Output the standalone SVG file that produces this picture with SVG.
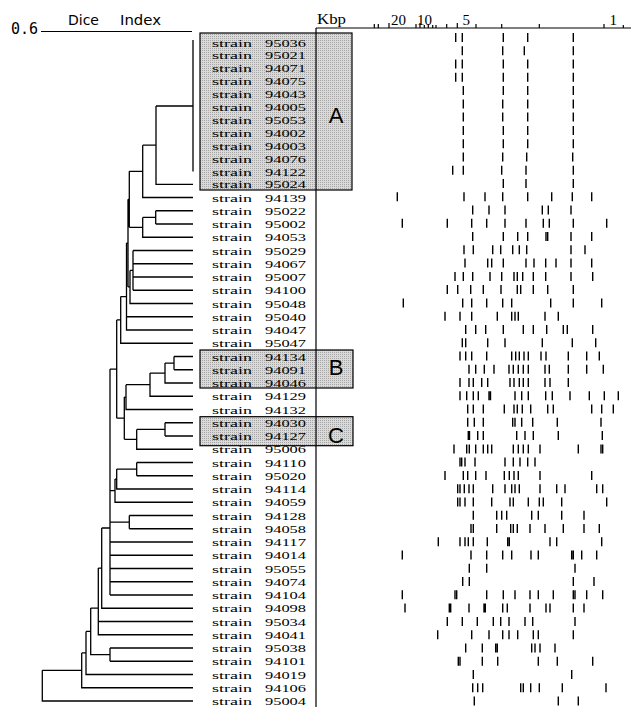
<svg xmlns="http://www.w3.org/2000/svg" width="631" height="707" viewBox="0 0 631 707">
<defs>
<pattern id="stip" width="2" height="2" patternUnits="userSpaceOnUse"><rect width="2" height="2" fill="#dadada"/><rect width="1" height="1" fill="#a6a6a6"/></pattern>
</defs>
<style>
.ln{fill:none;stroke:#000;stroke-width:1.3}
.ax{fill:none;stroke:#000;stroke-width:1.2}
.b{fill:none;stroke:#000;stroke-width:1.4}
.box{fill:url(#stip);stroke:#000;stroke-width:1.2}
.s{font-family:"Liberation Serif",serif;font-size:11.4px;fill:#000}
.lab{font-family:"Liberation Sans",sans-serif;font-size:22px;fill:#000}
.hd{font-family:"DejaVu Sans",sans-serif;font-size:14px;fill:#000}
.mono{font-family:"DejaVu Sans Mono",monospace;font-size:15px;fill:#000}
.k{font-family:"Liberation Serif",serif;font-size:15px;fill:#000}
</style>
<rect width="631" height="707" fill="#fff"/>
<g id="boxes">
<rect class="box" x="200" y="33" width="152" height="157"/>
<rect class="box" x="200" y="350" width="153" height="38"/>
<rect class="box" x="200" y="416.7" width="153" height="29"/>
<text class="lab" x="336" y="123" text-anchor="middle">A</text>
<text class="lab" x="336" y="375" text-anchor="middle">B</text>
<text class="lab" x="336" y="443" text-anchor="middle">C</text>
</g>
<g id="axes">
<text class="mono" x="11" y="33.5">0.6</text>
<text class="hd" x="68" y="25">Dice</text>
<text class="hd" x="120" y="25" textLength="41" lengthAdjust="spacingAndGlyphs">Index</text>
<path class="ax" d="M41,31.5H192"/>
<path class="ax" d="M316,28H631M316,28V707"/>
<text class="k" x="317" y="23.5" textLength="29" lengthAdjust="spacingAndGlyphs">Kbp</text>
<text class="k" x="391" y="25">20</text>
<text class="k" x="417" y="25">10</text>
<text class="k" x="462.5" y="25">5</text>
<text class="k" x="609.5" y="25">1</text>
<path class="ax" d="M374.3,24V28M378.3,24V28M389,23V28M416,24V28M420,23V28M424.3,25V28M428.3,24V28M432.7,25V28M436,25V28M446.7,24V28M457.3,23V28M476,24V28M501.7,24V28M539.3,24V28M604,24V28M623.3,25V28"/>
</g>
<g id="connectors">
<path class="ln" d="M193,40V171.5M156,106H193M156,106V184.4H193M142.7,145.2H156M142.7,145.2V197.5H193M129.3,171.35H142.7
M155.7,210.75H193M155.7,224H193M155.7,210.75V224M142.7,217.4H155.7M142.7,217.4V237.25H193M129.3,227.3H142.7M129.3,171.35V227.3
M128,199.3H129.3M128,199.3V286.9M133,250.5V290.25M133,250.5H193M133,263.75H193M133,277H193M133,290.25H193M130,270.4H133M130,270.4V303.5H193M128,286.9H130
M126.5,243.1H128M126.5,243.1V330H193M126.5,316.75H193M120.7,296.6H126.5M120.7,296.6V343.25H193M116.7,319.9H120.7M116.7,319.9V418.2
M174,356.5V369.75M174,356.5H193M174,369.75H193M165,363.1H174M165,363.1V383H193M150,373.1H165M150,373.1V396.25H193M126,384.7H150M126,384.7V409.5H193M124.3,397.1H126M124.3,397.1V439.3
M165,422.75V436M165,422.75H193M165,436H193M136.7,429.4H165M136.7,429.4V449.25H193M124.3,439.3H136.7M116.7,418.2H124.3
M110,369.05H116.7M110,369.05V595
M136.7,462.5V475.75M136.7,462.5H193M136.7,475.75H193M116.7,469.1H136.7M116.7,469.1V489H193M115,479.05H116.7M115,479.05V502.25H193M110,490.65H115
M129.3,515.5V528.75M129.3,515.5H193M129.3,528.75H193M110,522.1H129.3
M110,542H193M110,555.25H193M110,568.5H193M110,581.75H193M110,595H193
M101.7,528H110M101.7,528V608.25H193M98.3,568.1H101.7M98.3,568.1V634.75H193M98.3,621.5H193
M110,648V661.25M110,648H193M110,661.25H193M90.7,608.1H98.3M90.7,608.1V654.6H110
M86,631.4H90.7M86,631.4V674.5H193M81.7,652.9H86M81.7,652.9V687.75H193M42.3,670.3H81.7M42.3,670.3V701H193"/>
</g>
<g id="labels">
<g id="s95036"><text class="s" y="46.5"><tspan x="212" textLength="40" lengthAdjust="spacingAndGlyphs">strain</tspan><tspan x="265" textLength="41" lengthAdjust="spacingAndGlyphs">95036</tspan></text></g>
<g id="s95021"><text class="s" y="59.4"><tspan x="212" textLength="40" lengthAdjust="spacingAndGlyphs">strain</tspan><tspan x="265" textLength="41" lengthAdjust="spacingAndGlyphs">95021</tspan></text></g>
<g id="s94071"><text class="s" y="72.3"><tspan x="212" textLength="40" lengthAdjust="spacingAndGlyphs">strain</tspan><tspan x="265" textLength="41" lengthAdjust="spacingAndGlyphs">94071</tspan></text></g>
<g id="s94075"><text class="s" y="85.2"><tspan x="212" textLength="40" lengthAdjust="spacingAndGlyphs">strain</tspan><tspan x="265" textLength="41" lengthAdjust="spacingAndGlyphs">94075</tspan></text></g>
<g id="s94043"><text class="s" y="98.1"><tspan x="212" textLength="40" lengthAdjust="spacingAndGlyphs">strain</tspan><tspan x="265" textLength="41" lengthAdjust="spacingAndGlyphs">94043</tspan></text></g>
<g id="s94005"><text class="s" y="111"><tspan x="212" textLength="40" lengthAdjust="spacingAndGlyphs">strain</tspan><tspan x="265" textLength="41" lengthAdjust="spacingAndGlyphs">94005</tspan></text></g>
<g id="s95053"><text class="s" y="123.9"><tspan x="212" textLength="40" lengthAdjust="spacingAndGlyphs">strain</tspan><tspan x="265" textLength="41" lengthAdjust="spacingAndGlyphs">95053</tspan></text></g>
<g id="s94002"><text class="s" y="136.8"><tspan x="212" textLength="40" lengthAdjust="spacingAndGlyphs">strain</tspan><tspan x="265" textLength="41" lengthAdjust="spacingAndGlyphs">94002</tspan></text></g>
<g id="s94003"><text class="s" y="149.7"><tspan x="212" textLength="40" lengthAdjust="spacingAndGlyphs">strain</tspan><tspan x="265" textLength="41" lengthAdjust="spacingAndGlyphs">94003</tspan></text></g>
<g id="s94076"><text class="s" y="162.6"><tspan x="212" textLength="40" lengthAdjust="spacingAndGlyphs">strain</tspan><tspan x="265" textLength="41" lengthAdjust="spacingAndGlyphs">94076</tspan></text></g>
<g id="s94122"><text class="s" y="175.5"><tspan x="212" textLength="40" lengthAdjust="spacingAndGlyphs">strain</tspan><tspan x="265" textLength="41" lengthAdjust="spacingAndGlyphs">94122</tspan></text></g>
<g id="s95024"><text class="s" y="188.4"><tspan x="212" textLength="40" lengthAdjust="spacingAndGlyphs">strain</tspan><tspan x="265" textLength="41" lengthAdjust="spacingAndGlyphs">95024</tspan></text></g>
<g id="s94139"><text class="s" y="201.5"><tspan x="212" textLength="40" lengthAdjust="spacingAndGlyphs">strain</tspan><tspan x="265" textLength="41" lengthAdjust="spacingAndGlyphs">94139</tspan></text></g>
<g id="s95022"><text class="s" y="214.75"><tspan x="212" textLength="40" lengthAdjust="spacingAndGlyphs">strain</tspan><tspan x="265" textLength="41" lengthAdjust="spacingAndGlyphs">95022</tspan></text></g>
<g id="s95002"><text class="s" y="228"><tspan x="212" textLength="40" lengthAdjust="spacingAndGlyphs">strain</tspan><tspan x="265" textLength="41" lengthAdjust="spacingAndGlyphs">95002</tspan></text></g>
<g id="s94053"><text class="s" y="241.25"><tspan x="212" textLength="40" lengthAdjust="spacingAndGlyphs">strain</tspan><tspan x="265" textLength="41" lengthAdjust="spacingAndGlyphs">94053</tspan></text></g>
<g id="s95029"><text class="s" y="254.5"><tspan x="212" textLength="40" lengthAdjust="spacingAndGlyphs">strain</tspan><tspan x="265" textLength="41" lengthAdjust="spacingAndGlyphs">95029</tspan></text></g>
<g id="s94067"><text class="s" y="267.75"><tspan x="212" textLength="40" lengthAdjust="spacingAndGlyphs">strain</tspan><tspan x="265" textLength="41" lengthAdjust="spacingAndGlyphs">94067</tspan></text></g>
<g id="s95007"><text class="s" y="281"><tspan x="212" textLength="40" lengthAdjust="spacingAndGlyphs">strain</tspan><tspan x="265" textLength="41" lengthAdjust="spacingAndGlyphs">95007</tspan></text></g>
<g id="s94100"><text class="s" y="294.25"><tspan x="212" textLength="40" lengthAdjust="spacingAndGlyphs">strain</tspan><tspan x="265" textLength="41" lengthAdjust="spacingAndGlyphs">94100</tspan></text></g>
<g id="s95048"><text class="s" y="307.5"><tspan x="212" textLength="40" lengthAdjust="spacingAndGlyphs">strain</tspan><tspan x="265" textLength="41" lengthAdjust="spacingAndGlyphs">95048</tspan></text></g>
<g id="s95040"><text class="s" y="320.75"><tspan x="212" textLength="40" lengthAdjust="spacingAndGlyphs">strain</tspan><tspan x="265" textLength="41" lengthAdjust="spacingAndGlyphs">95040</tspan></text></g>
<g id="s94047"><text class="s" y="334"><tspan x="212" textLength="40" lengthAdjust="spacingAndGlyphs">strain</tspan><tspan x="265" textLength="41" lengthAdjust="spacingAndGlyphs">94047</tspan></text></g>
<g id="s95047"><text class="s" y="347.25"><tspan x="212" textLength="40" lengthAdjust="spacingAndGlyphs">strain</tspan><tspan x="265" textLength="41" lengthAdjust="spacingAndGlyphs">95047</tspan></text></g>
<g id="s94134"><text class="s" y="360.5"><tspan x="212" textLength="40" lengthAdjust="spacingAndGlyphs">strain</tspan><tspan x="265" textLength="41" lengthAdjust="spacingAndGlyphs">94134</tspan></text></g>
<g id="s94091"><text class="s" y="373.75"><tspan x="212" textLength="40" lengthAdjust="spacingAndGlyphs">strain</tspan><tspan x="265" textLength="41" lengthAdjust="spacingAndGlyphs">94091</tspan></text></g>
<g id="s94046"><text class="s" y="387"><tspan x="212" textLength="40" lengthAdjust="spacingAndGlyphs">strain</tspan><tspan x="265" textLength="41" lengthAdjust="spacingAndGlyphs">94046</tspan></text></g>
<g id="s94129"><text class="s" y="400.25"><tspan x="212" textLength="40" lengthAdjust="spacingAndGlyphs">strain</tspan><tspan x="265" textLength="41" lengthAdjust="spacingAndGlyphs">94129</tspan></text></g>
<g id="s94132"><text class="s" y="413.5"><tspan x="212" textLength="40" lengthAdjust="spacingAndGlyphs">strain</tspan><tspan x="265" textLength="41" lengthAdjust="spacingAndGlyphs">94132</tspan></text></g>
<g id="s94030"><text class="s" y="426.75"><tspan x="212" textLength="40" lengthAdjust="spacingAndGlyphs">strain</tspan><tspan x="265" textLength="41" lengthAdjust="spacingAndGlyphs">94030</tspan></text></g>
<g id="s94127"><text class="s" y="440"><tspan x="212" textLength="40" lengthAdjust="spacingAndGlyphs">strain</tspan><tspan x="265" textLength="41" lengthAdjust="spacingAndGlyphs">94127</tspan></text></g>
<g id="s95006"><text class="s" y="453.25"><tspan x="212" textLength="40" lengthAdjust="spacingAndGlyphs">strain</tspan><tspan x="265" textLength="41" lengthAdjust="spacingAndGlyphs">95006</tspan></text></g>
<g id="s94110"><text class="s" y="466.5"><tspan x="212" textLength="40" lengthAdjust="spacingAndGlyphs">strain</tspan><tspan x="265" textLength="41" lengthAdjust="spacingAndGlyphs">94110</tspan></text></g>
<g id="s95020"><text class="s" y="479.75"><tspan x="212" textLength="40" lengthAdjust="spacingAndGlyphs">strain</tspan><tspan x="265" textLength="41" lengthAdjust="spacingAndGlyphs">95020</tspan></text></g>
<g id="s94114"><text class="s" y="493"><tspan x="212" textLength="40" lengthAdjust="spacingAndGlyphs">strain</tspan><tspan x="265" textLength="41" lengthAdjust="spacingAndGlyphs">94114</tspan></text></g>
<g id="s94059"><text class="s" y="506.25"><tspan x="212" textLength="40" lengthAdjust="spacingAndGlyphs">strain</tspan><tspan x="265" textLength="41" lengthAdjust="spacingAndGlyphs">94059</tspan></text></g>
<g id="s94128"><text class="s" y="519.5"><tspan x="212" textLength="40" lengthAdjust="spacingAndGlyphs">strain</tspan><tspan x="265" textLength="41" lengthAdjust="spacingAndGlyphs">94128</tspan></text></g>
<g id="s94058"><text class="s" y="532.75"><tspan x="212" textLength="40" lengthAdjust="spacingAndGlyphs">strain</tspan><tspan x="265" textLength="41" lengthAdjust="spacingAndGlyphs">94058</tspan></text></g>
<g id="s94117"><text class="s" y="546"><tspan x="212" textLength="40" lengthAdjust="spacingAndGlyphs">strain</tspan><tspan x="265" textLength="41" lengthAdjust="spacingAndGlyphs">94117</tspan></text></g>
<g id="s94014"><text class="s" y="559.25"><tspan x="212" textLength="40" lengthAdjust="spacingAndGlyphs">strain</tspan><tspan x="265" textLength="41" lengthAdjust="spacingAndGlyphs">94014</tspan></text></g>
<g id="s95055"><text class="s" y="572.5"><tspan x="212" textLength="40" lengthAdjust="spacingAndGlyphs">strain</tspan><tspan x="265" textLength="41" lengthAdjust="spacingAndGlyphs">95055</tspan></text></g>
<g id="s94074"><text class="s" y="585.75"><tspan x="212" textLength="40" lengthAdjust="spacingAndGlyphs">strain</tspan><tspan x="265" textLength="41" lengthAdjust="spacingAndGlyphs">94074</tspan></text></g>
<g id="s94104"><text class="s" y="599"><tspan x="212" textLength="40" lengthAdjust="spacingAndGlyphs">strain</tspan><tspan x="265" textLength="41" lengthAdjust="spacingAndGlyphs">94104</tspan></text></g>
<g id="s94098"><text class="s" y="612.25"><tspan x="212" textLength="40" lengthAdjust="spacingAndGlyphs">strain</tspan><tspan x="265" textLength="41" lengthAdjust="spacingAndGlyphs">94098</tspan></text></g>
<g id="s95034"><text class="s" y="625.5"><tspan x="212" textLength="40" lengthAdjust="spacingAndGlyphs">strain</tspan><tspan x="265" textLength="41" lengthAdjust="spacingAndGlyphs">95034</tspan></text></g>
<g id="s94041"><text class="s" y="638.75"><tspan x="212" textLength="40" lengthAdjust="spacingAndGlyphs">strain</tspan><tspan x="265" textLength="41" lengthAdjust="spacingAndGlyphs">94041</tspan></text></g>
<g id="s95038"><text class="s" y="652"><tspan x="212" textLength="40" lengthAdjust="spacingAndGlyphs">strain</tspan><tspan x="265" textLength="41" lengthAdjust="spacingAndGlyphs">95038</tspan></text></g>
<g id="s94101"><text class="s" y="665.25"><tspan x="212" textLength="40" lengthAdjust="spacingAndGlyphs">strain</tspan><tspan x="265" textLength="41" lengthAdjust="spacingAndGlyphs">94101</tspan></text></g>
<g id="s94019"><text class="s" y="678.5"><tspan x="212" textLength="40" lengthAdjust="spacingAndGlyphs">strain</tspan><tspan x="265" textLength="41" lengthAdjust="spacingAndGlyphs">94019</tspan></text></g>
<g id="s94106"><text class="s" y="691.75"><tspan x="212" textLength="40" lengthAdjust="spacingAndGlyphs">strain</tspan><tspan x="265" textLength="41" lengthAdjust="spacingAndGlyphs">94106</tspan></text></g>
<g id="s95004"><text class="s" y="704.5"><tspan x="212" textLength="40" lengthAdjust="spacingAndGlyphs">strain</tspan><tspan x="265" textLength="41" lengthAdjust="spacingAndGlyphs">95004</tspan></text></g>
</g>
<g id="bands">
<path class="b" transform="translate(0,33)" d="M455.7,0v9M462.3,0v9M503.3,0v9M527.7,0v9M573.3,0v9"/>
<path class="b" transform="translate(0,46.3)" d="M462.3,0v9M502.7,0v9M524.3,0v9M573.3,0v9"/>
<path class="b" transform="translate(0,59.5)" d="M455.7,0v9M462.3,0v9M503.3,0v9M527.7,0v9M573.3,0v9"/>
<path class="b" transform="translate(0,72.8)" d="M455.7,0v9M462.3,0v9M503.3,0v9M527.7,0v9M573.3,0v9"/>
<path class="b" transform="translate(0,86.1)" d="M463.3,0v9M503.3,0v9M527.7,0v9M573.3,0v9"/>
<path class="b" transform="translate(0,99.4)" d="M463.3,0v9M502.7,0v9M527.7,0v9M573.3,0v9"/>
<path class="b" transform="translate(0,112.6)" d="M463.3,0v9M502.7,0v9M527.7,0v9M573.3,0v9"/>
<path class="b" transform="translate(0,125.9)" d="M463.3,0v9M503.3,0v9M527.7,0v9M573.3,0v9"/>
<path class="b" transform="translate(0,139.2)" d="M463.3,0v9M503.3,0v9M527.7,0v9M573.3,0v9"/>
<path class="b" transform="translate(0,152.4)" d="M463.3,0v9M502.7,0v9M526.7,0v9M572.7,0v9"/>
<path class="b" transform="translate(0,165.7)" d="M452.7,0v9M463.3,0v9M501.7,0v9M526,0v9M573.3,0v9"/>
<path class="b" transform="translate(0,179)" d="M503.3,0v9M526,0v9M573.3,0v9"/>
<path class="b" transform="translate(0,192.2)" d="M397.3,0v9M464,0v9M485,0v9M502.7,0v9M527.7,0v9M551.7,0v9M572.3,0v9M591.7,0v9"/>
<path class="b" transform="translate(0,205.5)" d="M472.7,0v9M489,0v9M505,0v9M542.3,0v9M548.3,0v9M571,0v9"/>
<path class="b" transform="translate(0,218.8)" d="M402.3,0v9M447.3,0v9M471.7,0v9M486.7,0v9M505,0v9M526,0v9M543.3,0v9M549.3,0v9M573.3,0v9M606.7,0v9"/>
<path class="b" transform="translate(0,232)" d="M472.7,0v9M503.3,0v9M517.7,0v9M527.7,0v9M546,0v9M547.7,0v9M571,0v9M591.7,0v9"/>
<path class="b" transform="translate(0,245.3)" d="M464,0v9M473.3,0v9M492.7,0v9M500.7,0v9M512.7,0v9M519.3,0v9M526.7,0v9M571,0v9M585,0v9"/>
<path class="b" transform="translate(0,258.6)" d="M465,0v9M487.7,0v9M491.7,0v9M503.3,0v9M526,0v9M534,0v9M545.7,0v9M556,0v9M571,0v9M591.7,0v9"/>
<path class="b" transform="translate(0,271.9)" d="M455,0v9M463.3,0v9M472.7,0v9M490,0v9M501.7,0v9M514,0v9M517.3,0v9M522.7,0v9M533.3,0v9M545.7,0v9M571,0v9M592.7,0v9"/>
<path class="b" transform="translate(0,285.1)" d="M447.3,0v9M457.7,0v9M470.7,0v9M483.3,0v9M501,0v9M517.3,0v9M520.7,0v9M533.3,0v9M547.7,0v9M573.3,0v9"/>
<path class="b" transform="translate(0,298.4)" d="M403.3,0v9M462.7,0v9M471.7,0v9M486.7,0v9M502.7,0v9M511.7,0v9M550.7,0v9M573.3,0v9M601.7,0v9"/>
<path class="b" transform="translate(0,311.7)" d="M445,0v9M460,0v9M471.7,0v9M497.3,0v9M511.7,0v9M515,0v9M518.3,0v9M545,0v9M558.3,0v9"/>
<path class="b" transform="translate(0,324.9)" d="M465.7,0v9M475.7,0v9M485.7,0v9M503.3,0v9M523.3,0v9M533.3,0v9M546.7,0v9M563.3,0v9M567.3,0v9M592.7,0v9"/>
<path class="b" transform="translate(0,338.2)" d="M462.3,0v9M465.7,0v9M487.7,0v9M505,0v9M542.3,0v9M572.3,0v9M595.7,0v9"/>
<path class="b" transform="translate(0,351.5)" d="M460,0v9M465.7,0v9M471.7,0v9M486.7,0v9M511.7,0v9M515.7,0v9M519.3,0v9M524,0v9M528.3,0v9M541,0v9M546,0v9M568.3,0v9M586.7,0v9M599.3,0v9"/>
<path class="b" transform="translate(0,364.8)" d="M469,0v9M475.7,0v9M484.3,0v9M494,0v9M509,0v9M513.3,0v9M518.3,0v9M523.3,0v9M528.3,0v9M545,0v9M549.3,0v9M568.3,0v9M586.7,0v9M603.3,0v9"/>
<path class="b" transform="translate(0,378)" d="M460,0v9M469,0v9M473.3,0v9M481.7,0v9M487.7,0v9M510,0v9M514,0v9M519.3,0v9M523.3,0v9M528.3,0v9M545,0v9M550,0v9M568.3,0v9"/>
<path class="b" transform="translate(0,391.3)" d="M460,0v9M466.7,0v9M473.3,0v9M478.3,0v9M489,0v9M490.5,0v9M515,0v9M521.7,0v9M528.3,0v9M545.7,0v9M552.3,0v9M570,0v9M589.3,0v9M604.3,0v9M618.3,0v9"/>
<path class="b" transform="translate(0,404.6)" d="M467.7,0v9M473.3,0v9M483.3,0v9M504.3,0v9M514,0v9M517.3,0v9M522.3,0v9M530.7,0v9M547.7,0v9M553.3,0v9M591.7,0v9M601.7,0v9M613.3,0v9"/>
<path class="b" transform="translate(0,417.8)" d="M467.7,0v9M474.3,0v9M483.3,0v9M512.7,0v9M515,0v9M521.7,0v9M532.7,0v9M557.3,0v9M601,0v9"/>
<path class="b" transform="translate(0,431.1)" d="M468.3,0v9M469.5,0v9M477.7,0v9M483.3,0v9M516.7,0v9M525,0v9M533.3,0v9M558.3,0v9M602.3,0v9"/>
<path class="b" transform="translate(0,444.4)" d="M454,0v9M466.7,0v9M469.3,0v9M475.7,0v9M483.3,0v9M487.7,0v9M491.7,0v9M513.3,0v9M518.3,0v9M523.3,0v9M528.3,0v9M540,0v9M578.3,0v9M601,0v9M602.7,0v9"/>
<path class="b" transform="translate(0,457.6)" d="M460,0v9M461.7,0v9M465,0v9M475,0v9M505,0v9M513.3,0v9M520,0v9M527.7,0v9M535,0v9"/>
<path class="b" transform="translate(0,470.9)" d="M445,0v9M463.3,0v9M467.7,0v9M475.7,0v9M486,0v9M504.3,0v9M509.3,0v9M514,0v9M518.3,0v9M540,0v9M591.7,0v9"/>
<path class="b" transform="translate(0,484.2)" d="M457.7,0v9M460,0v9M464.3,0v9M469,0v9M473.3,0v9M492.7,0v9M505,0v9M511.7,0v9M515,0v9M519.3,0v9M540,0v9M556.7,0v9M565,0v9M596.7,0v9M602.7,0v9"/>
<path class="b" transform="translate(0,497.5)" d="M457.7,0v9M460,0v9M465,0v9M473.3,0v9M491.7,0v9M510,0v9M513.3,0v9M528.3,0v9M539.3,0v9M543.3,0v9M561.7,0v9M606.7,0v9"/>
<path class="b" transform="translate(0,510.7)" d="M473.3,0v9M496.7,0v9M501.7,0v9M506.7,0v9M531.7,0v9M538.3,0v9M561.7,0v9M584,0v9"/>
<path class="b" transform="translate(0,524)" d="M471,0v9M473.3,0v9M496.7,0v9M510.7,0v9M513.3,0v9M517.3,0v9M530,0v9M545,0v9M563.3,0v9M584,0v9M599.3,0v9"/>
<path class="b" transform="translate(0,537.3)" d="M438.3,0v9M460,0v9M465,0v9M468.3,0v9M473.3,0v9M487.3,0v9M507.7,0v9M509.3,0v9M550,0v9M556.7,0v9M601.7,0v9"/>
<path class="b" transform="translate(0,550.5)" d="M402.3,0v9M471,0v9M486.7,0v9M502.7,0v9M511.7,0v9M531,0v9M538.3,0v9M571.7,0v9M573.3,0v9M581.7,0v9M596.7,0v9"/>
<path class="b" transform="translate(0,563.8)" d="M469.3,0v9M486.7,0v9M575,0v9"/>
<path class="b" transform="translate(0,577.1)" d="M462.7,0v9M469.3,0v9M573.3,0v9M594,0v9"/>
<path class="b" transform="translate(0,590.3)" d="M402.3,0v9M455,0v9M456.7,0v9M486.7,0v9M503.3,0v9M515,0v9M530,0v9M538.3,0v9M553.3,0v9M573.3,0v9M575,0v9M586.7,0v9M602.7,0v9"/>
<path class="b" transform="translate(0,603.6)" d="M405,0v9M449.3,0v9M450.7,0v9M469,0v9M484,0v9M485.3,0v9M502.7,0v9M507.3,0v9M530,0v9M546,0v9M550,0v9M573.3,0v9M584,0v9"/>
<path class="b" transform="translate(0,616.9)" d="M447.3,0v9M462.3,0v9M477.3,0v9M493.3,0v9M500.7,0v9M509,0v9M525,0v9M532.7,0v9M575,0v9"/>
<path class="b" transform="translate(0,630.2)" d="M437.7,0v9M471.7,0v9M489,0v9M502.7,0v9M509,0v9M517.7,0v9M533.3,0v9M538.3,0v9M573.3,0v9"/>
<path class="b" transform="translate(0,643.4)" d="M465.7,0v9M482.3,0v9M495.7,0v9M497.3,0v9M531.7,0v9M535,0v9M540,0v9M555,0v9"/>
<path class="b" transform="translate(0,656.7)" d="M458.3,0v9M460,0v9M482.3,0v9M497.7,0v9M538.3,0v9M557.3,0v9M592.7,0v9"/>
<path class="b" transform="translate(0,670)" d="M473.3,0v9M571.7,0v9"/>
<path class="b" transform="translate(0,683.2)" d="M472.7,0v9M477.7,0v9M482.7,0v9M520.7,0v9M523.3,0v9M530.7,0v9M539.3,0v9M562.3,0v9M606,0v9"/>
<path class="b" transform="translate(0,696.5)" d="M474.3,0v9M558.3,0v9M578.3,0v9"/>
</g>
</svg>
